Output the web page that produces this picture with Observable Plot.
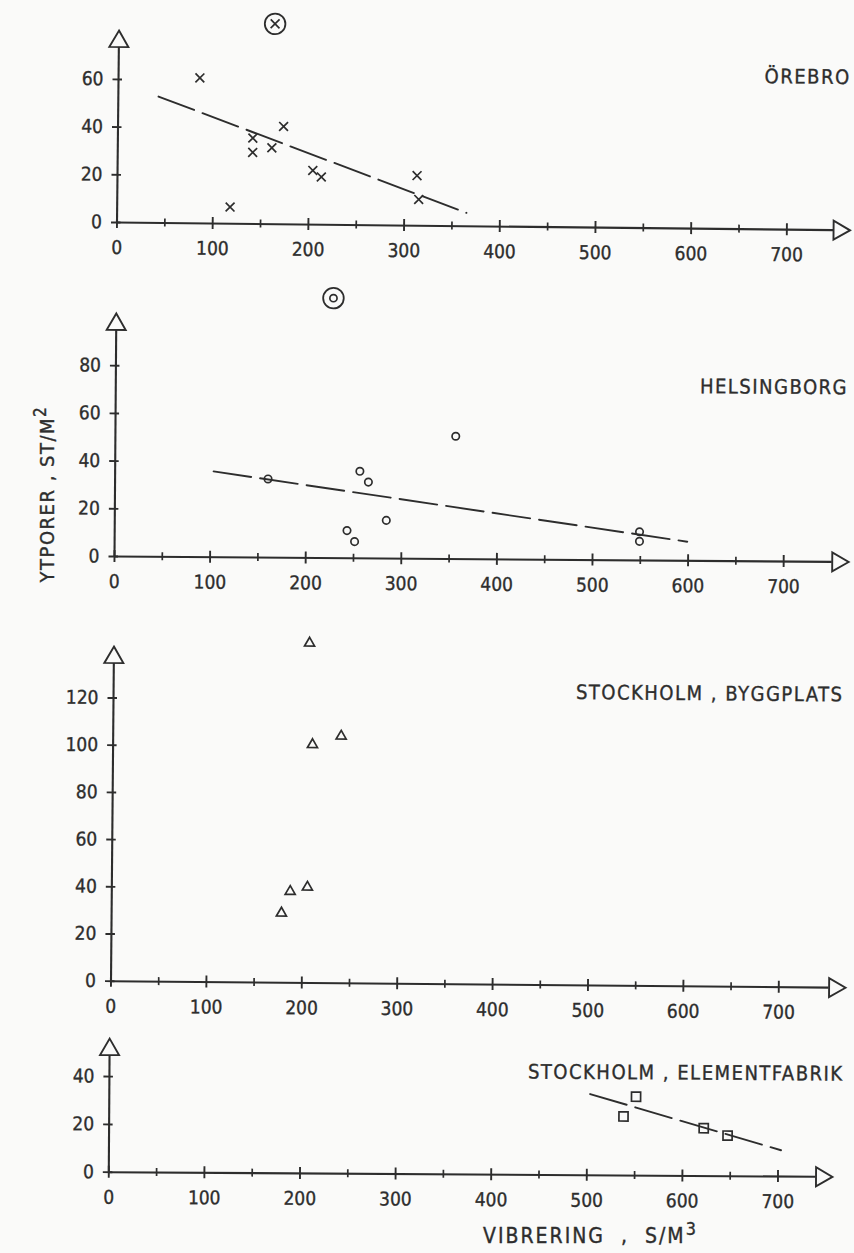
<!DOCTYPE html>
<html>
<head>
<meta charset="utf-8">
<script src="https://cdn.jsdelivr.net/npm/d3@7"></script>
<script src="https://cdn.jsdelivr.net/npm/@observablehq/plot@0.6"></script>
<style>
  body { margin: 0; background: #fafaf9; }
  #chart {
    position: relative; width: 854px; height: 1253px; overflow: hidden;
    font-family: "Liberation Sans Narrow", "DejaVu Sans Condensed", "Liberation Sans", sans-serif;
    color: #2d2d2d;
  }
  #chart svg { position: absolute; left: 0; }
  #chart svg text { stroke: #2d2d2d; stroke-width: 0.35px; }
  #chart .site text { letter-spacing: 1.5px; }
  .axis-title { position: absolute; font-size: 20px; line-height: 20px; white-space: nowrap;
                -webkit-text-stroke: 0.35px #2d2d2d; }
  .axis-title sup { font-size: 0.85em; vertical-align: 0.45em; line-height: 0; }
</style>
</head>
<body>
<div id="chart"></div>
<script>
// Surface pores (st/m²) against vibration time (s/m³) at four sites.

const xMajor = [0, 100, 200, 300, 400, 500, 600, 700];
const xMinor = [50, 150, 250, 350, 450, 550, 650];

// Örebro
const orebroX = [85, 118, 141, 141, 161, 173, 204, 213, 313, 315];
const orebroY = [61, 7, 36, 30, 32, 41, 22.7, 20, 21, 11];
const orebroTrendX = [42, 365];
const orebroTrendY = [53, 5.6];
const orebroTicks = [0, 20, 40, 60];

// Helsingborg
const helsingborgX = [160, 256, 265, 243, 251, 284, 356, 549, 549];
const helsingborgY = [33, 36.5, 32, 11.6, 7, 16, 51.5, 12, 8];
const helsingborgTrendX = [103, 599];
const helsingborgTrendY = [36, 8];
const helsingborgTicks = [0, 20, 40, 60, 80];

// Stockholm, byggplats
const byggplatsX = [205, 209, 239, 187, 205, 178];
const byggplatsY = [144, 101, 104.7, 38.7, 40.6, 29.5];
const byggplatsTicks = [0, 20, 40, 60, 80, 100, 120];

// Stockholm, elementfabrik
const fabrikX = [538, 551, 622, 647];
const fabrikY = [24.7, 33, 20, 17];
const fabrikTrendX = [503, 703];
const fabrikTrendY = [34, 11];
const fabrikTicks = [0, 20, 40];

const ink = "#2d2d2d";
const paper = "#fafaf9";
const chart = document.getElementById("chart");

function panel(cfg) {
  const { top, height, ox, oy, sx, sy, tilt, yTicks, xTip, yTip,
          xs, ys, symbol, r, trendX, trendY, name, nameX, nameY, key } = cfg;
  const oyL = oy - top;
  const head = 16.45;               // arrow-head length in px
  const marks = [
    // axis lines up to the arrow heads
    Plot.ruleY([0], { x1: 0, x2: xTip - head / sx, stroke: ink, strokeWidth: 2.1 }),
    Plot.ruleX([0], { y1: 0, y2: yTip - head / sy, stroke: ink, strokeWidth: 2.1 }),
    // tick marks crossing the axes
    Plot.ruleX(xMajor, { x: d => d, y1: -6 / sy, y2: 6 / sy, stroke: ink, strokeWidth: 1.9 }),
    Plot.ruleX(xMinor, { x: d => d, y1: -4 / sy, y2: 4 / sy, stroke: ink, strokeWidth: 1.7 }),
    Plot.ruleY(yTicks, { y: d => d, x1: -5.5 / sx, x2: 4 / sx, stroke: ink, strokeWidth: 1.9 }),
    // open arrow heads
    Plot.dot([xTip], { x: d => d, y: 0, symbol: "triangle", r: 7.05, rotate: 90, dx: -10.97,
                       fill: paper, stroke: ink, strokeWidth: 1.9 }),
    Plot.dot([yTip], { x: 0, y: d => d, symbol: "triangle", r: 7.05, dy: 10.97,
                       fill: paper, stroke: ink, strokeWidth: 1.9 }),
    Plot.axisX({ ticks: xMajor, tickSize: 0, tickPadding: 18, fontSize: 19, label: null }),
    Plot.axisY({ ticks: yTicks, tickSize: 0, tickPadding: 15, fontSize: 19, label: null }),
    Plot.dot(xs, { x: xs, y: ys, symbol, r, fill: "none", stroke: ink, strokeWidth: 1.7 }),
    Plot.text([name], { x: nameX, y: nameY, text: d => d, textAnchor: "end", fontSize: 20,
                        fill: ink, className: "site" })
  ];
  if (trendX) {
    marks.push(Plot.line(trendX, { x: trendX, y: trendY, stroke: ink, strokeWidth: 1.9,
                                   strokeDasharray: "38,9" }));
  }
  if (key) {
    marks.push(Plot.dot([key], { x: d => d.x, y: d => d.y, r: 10.3, fill: "none", stroke: ink, strokeWidth: 1.8 }));
    marks.push(Plot.dot([key], { x: d => d.x, y: d => d.y, symbol: key.symbol, r: key.r,
                                  fill: "none", stroke: ink, strokeWidth: 1.7 }));
  }
  const svg = Plot.plot({
    width: 854, height,
    marginLeft: ox, marginBottom: height - oyL, marginTop: 0, marginRight: 0,
    x: { domain: [0, 700], range: [ox, ox + 700 * sx] },
    y: { domain: [0, 100], range: [oyL, oyL - 100 * sy] },
    style: { background: "transparent", color: ink, overflow: "visible",
             fontFamily: '"Liberation Sans Narrow", "DejaVu Sans Condensed", "Liberation Sans", sans-serif' },
    marks
  });
  svg.style.top = top + "px";
  svg.style.transformOrigin = `${ox}px ${oyL}px`;
  svg.style.transform = `rotate(${tilt}deg)`;
  chart.appendChild(svg);
}

panel({ top: 0, height: 262, ox: 116.5, oy: 222, sx: 0.957, sy: 2.385, tilt: 0.61,
        yTicks: orebroTicks, xTip: 766, yTip: 80.5,
        xs: orebroX, ys: orebroY, symbol: "times", r: 4.1,
        trendX: orebroTrendX, trendY: orebroTrendY,
        name: "ÖREBRO", nameX: 765, nameY: 64,
        key: { x: 163, y: 84, symbol: "times", r: 4.1 } });

panel({ top: 262, height: 338, ox: 114, oy: 556, sx: 0.956, sy: 2.385, tilt: 0.43,
        yTicks: helsingborgTicks, xTip: 768, yTip: 101.9,
        xs: helsingborgX, ys: helsingborgY, symbol: "circle", r: 3.7,
        trendX: helsingborgTrendX, trendY: helsingborgTrendY,
        name: "HELSINGBORG", nameX: 766, nameY: 73,
        key: { x: 227, y: 109, symbol: "circle", r: 3.6 } });

panel({ top: 600, height: 420, ox: 110.5, oy: 980.7, sx: 0.954, sy: 2.36, tilt: 0.51,
        yTicks: byggplatsTicks, xTip: 770, yTip: 141.8,
        xs: byggplatsX, ys: byggplatsY, symbol: "triangle2", r: 4.8,
        name: "STOCKHOLM , BYGGPLATS", nameX: 765, nameY: 124 });

panel({ top: 1020, height: 190, ox: 108.3, oy: 1171.7, sx: 0.956, sy: 2.39, tilt: 0.37,
        yTicks: fabrikTicks, xTip: 757, yTip: 55.9,
        xs: fabrikX, ys: fabrikY, symbol: "square2", r: 5.8,
        trendX: fabrikTrendX, trendY: fabrikTrendY,
        name: "STOCKHOLM , ELEMENTFABRIK", nameX: 768, nameY: 43 });

// axis titles
const yTitle = document.createElement("div");
yTitle.className = "axis-title";
yTitle.innerHTML = "YTPORER , ST/M<sup>2</sup>";
yTitle.style.left = "-53px";
yTitle.style.top = "484px";
yTitle.style.width = "200px";
yTitle.style.textAlign = "center";
yTitle.style.letterSpacing = "1.5px";
yTitle.style.transform = "rotate(-90deg)";
chart.appendChild(yTitle);

const xTitle = document.createElement("div");
xTitle.className = "axis-title";
xTitle.innerHTML = "VIBRERING&nbsp; ,&nbsp; S/M<sup>3</sup>";
xTitle.style.left = "483px";
xTitle.style.top = "1226px";
xTitle.style.fontSize = "21px";
xTitle.style.letterSpacing = "2px";
chart.appendChild(xTitle);
</script>
</body>
</html>
